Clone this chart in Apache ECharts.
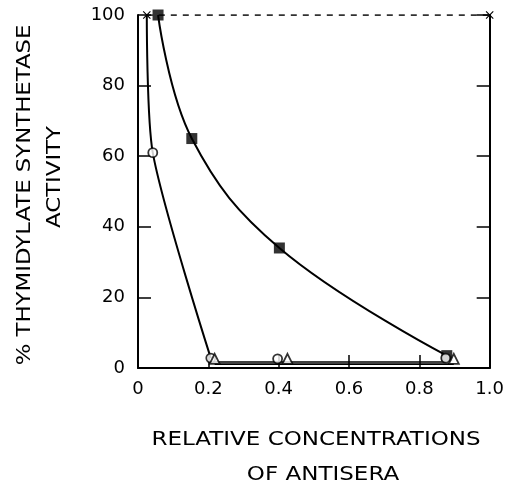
<!DOCTYPE html>
<html><head><meta charset="utf-8">
<script src="https://cdn.jsdelivr.net/npm/echarts@6/dist/echarts.min.js"></script>
<style>html,body{margin:0;padding:0;background:#fff}#c{width:507px;height:485px}</style>
</head><body><div id="c"></div>
<script>
// tick labels
const xTickLabels = ['0', '0.2', '0.4', '0.6', '0.8', '1.0'];
const yTickLabels = ['0', '20', '40', '60', '80', '100'];
// filled squares
const squareX = [0.057, 0.153, 0.402, 0.878];
const squareY = [100, 65, 34, 3.5];
// open circles
const circleX = [0.042, 0.207, 0.397, 0.875];
const circleY = [61, 2.8, 2.6, 2.8];
// open triangles
const triangleX = [0.218, 0.425, 0.898];
const triangleY = [2.6, 2.6, 2.6];
// crosses (control)
const crossX = [0.025, 1.0];
const crossY = [100, 100];
// curve through open circles
const circleCurveX = [0.025, 0.042, 0.207];
const circleCurveY = [100, 61, 2.8];
const circleFlatX = [0.207, 0.875];
const circleFlatY = [1.7, 1.7];
const triangleFlatX = [0.218, 0.898];
const triangleFlatY = [1.1, 1.1];

const zip = (xs, ys) => xs.map((x, i) => [x, ys[i]]);
const FONT = 'DejaVu Sans';
const black = '#000';
const crossPath = 'path://M0,1L1,0L5,4L9,0L10,1L6,5L10,9L9,10L5,6L1,10L0,9L4,5Z';

const chart = echarts.init(document.getElementById('c'), null, {renderer: 'canvas'});
const axisCommon = {
  type: 'value',
  axisLine: {show: true, onZero: false, lineStyle: {color: black, width: 2}},
  axisTick: {show: true, inside: true, length: 13, lineStyle: {color: black, width: 1.5}},
  splitLine: {show: false}
};
const titleStyle = t => ({text: t, fontFamily: FONT, fontSize: 20, fill: black, align: 'center', verticalAlign: 'middle'});
chart.setOption({
  animation: false,
  backgroundColor: '#fff',
  grid: {left: 138, right: 16, top: 15, bottom: 117, containLabel: false},
  xAxis: Object.assign({}, axisCommon, {
    min: 0, max: 1, interval: 0.2,
    axisLabel: {color: black, fontFamily: FONT, fontSize: 18, margin: 12,
      formatter: v => xTickLabels[Math.round(v / 0.2)]}
  }),
  yAxis: [
    Object.assign({}, axisCommon, {
      min: 0, max: 100, interval: 20,
      axisLabel: {color: black, fontFamily: FONT, fontSize: 18, margin: 13,
        formatter: v => yTickLabels[Math.round(v / 20)]}
    }),
    Object.assign({}, axisCommon, {
      position: 'right', min: 0, max: 100, interval: 20,
      axisLabel: {show: false}
    })
  ],
  graphic: [
    {type: 'text', style: titleStyle('RELATIVE CONCENTRATIONS'), x: 316, y: 440, scaleX: 1.15},
    {type: 'text', style: titleStyle('OF ANTISERA'), x: 323, y: 475, scaleX: 1.15},
    {type: 'text', style: titleStyle('% THYMIDYLATE SYNTHETASE'), x: 25, y: 195, rotation: Math.PI / 2, scaleX: 1.14},
    {type: 'text', style: titleStyle('ACTIVITY'), x: 55, y: 177, rotation: Math.PI / 2, scaleX: 1.14}
  ],
  series: [
    {type: 'line', data: zip(crossX, crossY), symbol: crossPath, symbolSize: 8,
      itemStyle: {color: black}, lineStyle: {color: black, width: 1.6, type: [6, 6]}, z: 3},
    {type: 'line', data: zip(squareX, squareY), smooth: 0.4, symbol: 'none',
      lineStyle: {color: black, width: 2}},
    {type: 'line', data: zip(circleCurveX, circleCurveY), smooth: 0.25, symbol: 'none',
      lineStyle: {color: black, width: 2}},
    {type: 'line', data: zip(circleFlatX, circleFlatY), symbol: 'none',
      lineStyle: {color: black, width: 1.7}},
    {type: 'line', data: zip(triangleFlatX, triangleFlatY), symbol: 'none',
      lineStyle: {color: black, width: 1.7}},
    {type: 'scatter', data: zip(squareX, squareY), symbol: 'rect', symbolSize: 11,
      itemStyle: {color: black}, z: 4},
    {type: 'scatter', data: zip(circleX, circleY), symbol: 'circle', symbolSize: 9,
      itemStyle: {color: '#fff', borderColor: black, borderWidth: 1.8}, z: 5},
    {type: 'scatter', data: zip(triangleX, triangleY), symbol: 'triangle', symbolSize: 10,
      itemStyle: {color: '#fff', borderColor: black, borderWidth: 1.8}, z: 5}
  ]
});
</script>
</body></html>
